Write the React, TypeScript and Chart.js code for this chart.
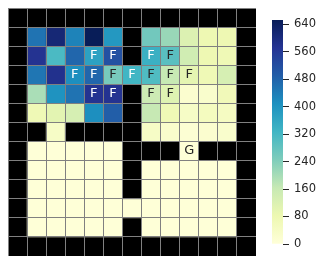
import React, { useEffect, useRef } from "react";
import { Chart, registerables } from "chart.js";
Chart.register(...registerables);

// ---- data ----
const VMIN = 0;
const VMAX = 652;
const columns = ["0", "1", "2", "3", "4", "5", "6", "7", "8", "9", "10", "11", "12"];
const W = null; // wall
const row0 = [W, W, W, W, W, W, W, W, W, W, W, W, W];
const row1 = [W, 456, 613, 430, 652, 391, W, 261, 215, 117, 78, 78, W];
const row2 = [W, 574, 313, 476, 372, 515, W, 339, 293, 143, 78, 72, W];
const row3 = [W, 450, 580, 411, 476, 254, 326, 306, 163, 98, 72, 130, W];
const row4 = [W, 196, 404, 456, 574, 574, W, 150, 111, 20, 26, 65, W];
const row5 = [W, 72, 104, 130, 411, 489, W, 163, 72, 39, 52, 46, W];
const row6 = [W, W, 39, W, W, W, W, 39, 26, 13, 20, 26, W];
const row7 = [W, 5, 5, 5, 5, 5, W, W, W, 5, W, W, W];
const row8 = [W, 5, 5, 5, 5, 5, W, 5, 5, 5, 5, 5, W];
const row9 = [W, 5, 5, 5, 5, 5, W, 5, 5, 5, 5, 5, W];
const row10 = [W, 5, 5, 5, 5, 5, 5, 5, 5, 5, 5, 5, W];
const row11 = [W, 5, 5, 5, 5, 5, W, 5, 5, 5, 5, 5, W];
const row12 = [W, W, W, W, W, W, W, W, W, W, W, W, W];
const rows = [row0, row1, row2, row3, row4, row5, row6, row7, row8, row9, row10, row11, row12];

const labels0 = ".............";
const labels1 = ".............";
const labels2 = "....FF.FF....";
const labels3 = "...FFFFFFF...";
const labels4 = "....FF.FF....";
const labels5 = ".............";
const labels6 = ".............";
const labels7 = ".........G...";
const labels8 = ".............";
const labels9 = ".............";
const labels10 = ".............";
const labels11 = ".............";
const labels12 = ".............";
const labelRows = [labels0, labels1, labels2, labels3, labels4, labels5, labels6, labels7, labels8, labels9, labels10, labels11, labels12];

const colorbarStep = 80;

// ---- colour map (YlGnBu) ----
const YLGNBU = ["#ffffd9", "#edf8b1", "#c7e9b4", "#7fcdbb", "#41b6c4", "#1d91c0", "#225ea8", "#253494", "#081d58"];
const hexToRgb = (h: string) => [parseInt(h.slice(1, 3), 16), parseInt(h.slice(3, 5), 16), parseInt(h.slice(5, 7), 16)];
const STOPS = YLGNBU.map(hexToRgb);
function cmap(t: number): number[] {
  const tt = Math.max(0, Math.min(1, t)) * (STOPS.length - 1);
  const i = Math.min(STOPS.length - 2, Math.floor(tt));
  const f = tt - i;
  return STOPS[i].map((c, k) => c + (STOPS[i + 1][k] - c) * f);
}
const rgbStr = (c: number[]) => `rgb(${Math.round(c[0])},${Math.round(c[1])},${Math.round(c[2])})`;
function luminance(c: number[]) {
  const lin = c.map((v) => {
    const s = v / 255;
    return s <= 0.03928 ? s / 12.92 : Math.pow((s + 0.055) / 1.055, 2.4);
  });
  return 0.2126 * lin[0] + 0.7152 * lin[1] + 0.0722 * lin[2];
}
const cellRgb = (v: number | null) => (v === null ? [0, 0, 0] : cmap((v - VMIN) / (VMAX - VMIN)));

const FONT = "'DejaVu Sans', sans-serif";

const annotatePlugin = {
  id: "annotate",
  afterDraw(chart: any) {
    const { ctx } = chart;
    const x = chart.scales.x;
    const y = chart.scales.y;
    ctx.save();
    ctx.font = `13px ${FONT}`;
    ctx.textAlign = "center";
    ctx.textBaseline = "middle";
    labelRows.forEach((s, r) => {
      s.split("").forEach((ch, c) => {
        if (ch === ".") return;
        const rgb = cellRgb(rows[r][c]);
        ctx.fillStyle = luminance(rgb) > 0.408 ? "#262626" : "#ffffff";
        ctx.fillText(ch, x.getPixelForValue(c), y.getPixelForValue(r + 0.5));
      });
    });
    ctx.restore();
  },
};

export default function App() {
  const heatRef = useRef<HTMLCanvasElement>(null);
  const barRef = useRef<HTMLCanvasElement>(null);

  useEffect(() => {
    const gridOpts = { color: "#808080", lineWidth: 1, drawTicks: false, z: 1 };
    const borderOpts = { display: true, color: "#808080", width: 1, z: 1 };
    const heat = new Chart(heatRef.current!, {
      type: "bar",
      data: {
        labels: columns,
        datasets: rows.map((r, i) => ({
          label: `row${i}`,
          data: columns.map(() => 1),
          backgroundColor: r.map((v) => rgbStr(cellRgb(v))),
          borderWidth: 0,
          categoryPercentage: 1,
          barPercentage: 1,
        })),
      },
      options: {
        responsive: false,
        animation: false,
        events: [],
        layout: { padding: 0 },
        plugins: { legend: { display: false }, tooltip: { enabled: false } },
        scales: {
          x: {
            stacked: true,
            grid: { ...gridOpts, offset: true },
            border: borderOpts,
            ticks: { display: false },
          },
          y: {
            stacked: true,
            reverse: true,
            min: 0,
            max: rows.length,
            grid: gridOpts,
            border: borderOpts,
            ticks: { display: false, stepSize: 1 },
          },
        },
      },
      plugins: [annotatePlugin],
    } as any);

    const bar = new Chart(barRef.current!, {
      type: "bar",
      data: {
        labels: ["cb"],
        datasets: [
          {
            data: [[VMIN, VMAX]] as any,
            backgroundColor: (ctx: any) => {
              const area = ctx.chart.chartArea;
              if (!area) return "#ffffd9";
              const g = ctx.chart.ctx.createLinearGradient(0, area.bottom, 0, area.top);
              YLGNBU.forEach((c, i) => g.addColorStop(i / (YLGNBU.length - 1), c));
              return g;
            },
            borderWidth: 0,
            categoryPercentage: 1,
            barPercentage: 1,
          },
        ],
      },
      options: {
        responsive: false,
        animation: false,
        events: [],
        layout: { padding: { top: 12, bottom: 12, left: 0, right: 0 } },
        plugins: { legend: { display: false }, tooltip: { enabled: false } },
        scales: {
          x: { display: false },
          y: {
            position: "right",
            min: VMIN,
            max: VMAX,
            afterFit: (s: any) => {
              s.width = 34;
            },
            grid: { drawOnChartArea: false, drawTicks: true, tickLength: 6, color: "#262626", lineWidth: 1 },
            border: { display: false },
            ticks: {
              stepSize: colorbarStep,
              includeBounds: false,
              padding: 5,
              color: "#262626",
              font: { family: FONT, size: 11.5 },
            },
          },
        },
      },
    } as any);

    return () => {
      heat.destroy();
      bar.destroy();
    };
  }, []);

  return (
    <div style={{ position: "relative", width: 309, height: 248 }}>
      <canvas ref={heatRef} width={248} height={248} style={{ position: "absolute", left: 0, top: 0, display: "block" }} />
      <canvas ref={barRef} width={45} height={248} style={{ position: "absolute", left: 264, top: 0, display: "block" }} />
    </div>
  );
}
